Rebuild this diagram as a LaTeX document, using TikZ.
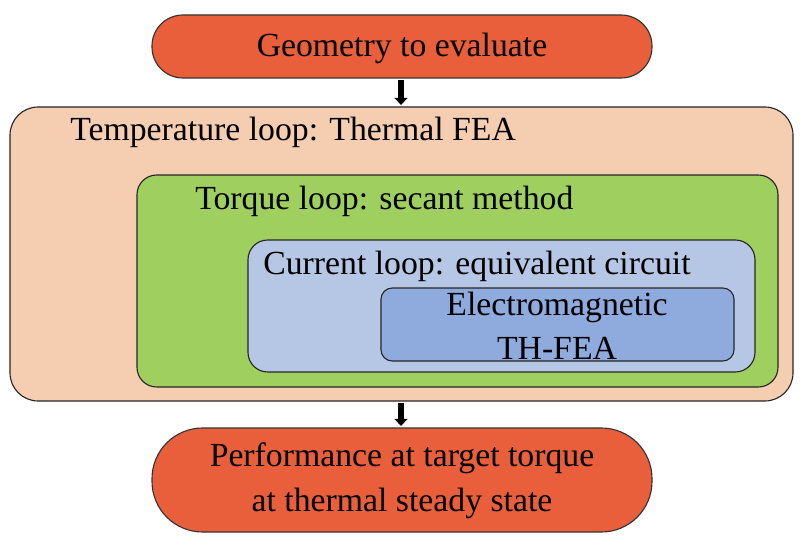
\documentclass[tikz,border=0pt]{standalone}
\usepackage{fontspec}
\setmainfont{Liberation Serif}[Ligatures=TeX]
\usetikzlibrary{arrows.meta}
\definecolor{pillRed}{HTML}{E95F3C}
\definecolor{peach}{HTML}{F5CDB0}
\definecolor{leaf}{HTML}{9FD05F}
\definecolor{pale}{HTML}{B6C7E5}
\definecolor{deep}{HTML}{8FAADC}
\begin{document}
\begin{tikzpicture}[x=0.025cm,y=-0.025cm]
	\tikzset{pill/.style = {draw=black!80,thick,fill=pillRed,rounded corners=22pt}}
	\tikzset{loopbox/.style = {draw=black!85,thick,rounded corners=14pt}}
	\tikzset{lbl/.style = {anchor=west,inner sep=0pt,font=\rmfamily\fontsize{24}{28}\selectfont}}
	\tikzstyle{flow} = [-{Triangle[length=5pt,width=9pt]},line width=4pt]
	\useasboundingbox (0,0) rectangle (802,545);
	%input and output
	\draw[pill] (152,15) rectangle (652,78);
	\node[font=\rmfamily\fontsize{24}{28}\selectfont] (geo) at (402,48) {Geometry to evaluate};
	\draw[pill,rounded corners=36pt] (152,428) rectangle (652,532);
	\node[align=center,font=\rmfamily\fontsize{24}{32}\selectfont] (perf) at (402,481) {Performance at target torque\\at thermal steady state};
	%nested loops
	\draw[loopbox,fill=peach,rounded corners=20pt] (10,107) rectangle (793,401);
	\node[lbl] (temp) at (70,132) {Temperature loop: Thermal FEA};
	\draw[loopbox,fill=leaf] (137,175) rectangle (778,387);
	\node[lbl] (torque) at (195,201) {Torque loop: secant method};
	\draw[loopbox,fill=pale] (248,240) rectangle (755,372);
	\node[lbl] (curr) at (263,266) {Current loop: equivalent circuit};
	\draw[loopbox,fill=deep,rounded corners=8pt] (381,288) rectangle (734,361);
	\node[align=center,font=\rmfamily\fontsize{24}{31}\selectfont] (em) at (557,326) {Electromagnetic\\TH-FEA};
	%arrows
	\coordinate (a1) at (401,80);
	\coordinate (a2) at (401,105);
	\coordinate (b1) at (401,403);
	\coordinate (b2) at (401,426);
	\draw[flow] (a1) -- (a2);
	\draw[flow] (b1) -- (b2);
\end{tikzpicture}
\end{document}
